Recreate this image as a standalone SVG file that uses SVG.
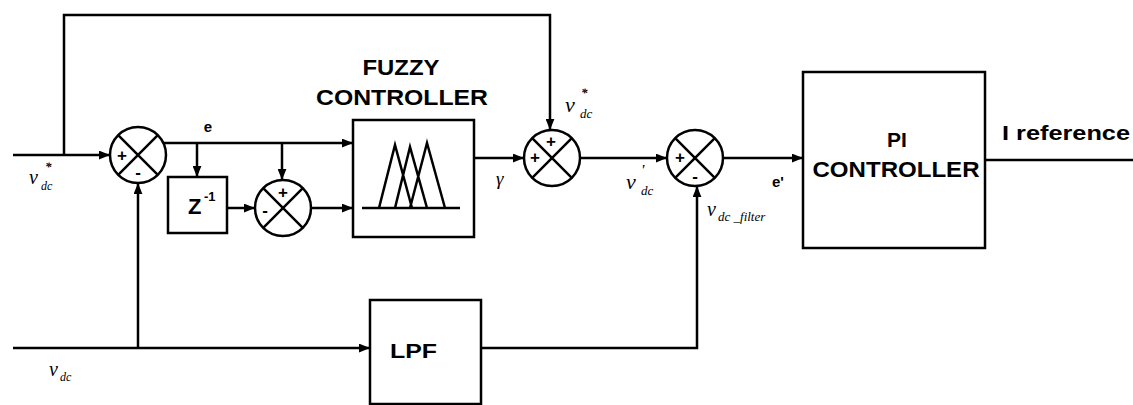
<svg xmlns="http://www.w3.org/2000/svg" width="1133" height="405" viewBox="0 0 1133 405">
<style>
.ln{stroke:#000;stroke-width:2.5;fill:none}
.box{stroke:#000;stroke-width:2.5;fill:#fff}
.lbl{font-family:"Liberation Sans",Arial,sans-serif;font-weight:bold;fill:#000}
.it{font-family:"Liberation Serif","Times New Roman",serif;font-style:italic;fill:#000}
.sg{font-family:"Liberation Sans",Arial,sans-serif;font-weight:bold;font-size:17px;text-anchor:middle;dominant-baseline:central;fill:#000}
</style>
<defs>
<marker id="ah" viewBox="0 0 10 8" refX="10" refY="4" markerWidth="11" markerHeight="9" markerUnits="userSpaceOnUse" orient="auto">
<path d="M0,0 L10,4 L0,8 z" fill="#000"/>
</marker>
</defs>

<g id="connectors" class="ln">
<path d="M13,155 L110,155" marker-end="url(#ah)"/>
<path d="M64,155 L64,15 L550,15 L550,130" marker-end="url(#ah)"/>
<path d="M163,143 L353,143" marker-end="url(#ah)"/>
<path d="M197,143 L197,177" marker-end="url(#ah)"/>
<path d="M282,143 L282,180" marker-end="url(#ah)"/>
<path d="M227,208 L255,208" marker-end="url(#ah)"/>
<path d="M311,208 L353,208" marker-end="url(#ah)"/>
<path d="M475,158 L524,158" marker-end="url(#ah)"/>
<path d="M580,158 L667,158" marker-end="url(#ah)"/>
<path d="M723,158 L803,158" marker-end="url(#ah)"/>
<path d="M985,160 L1133,160"/>
<path d="M13,348 L370,348" marker-end="url(#ah)"/>
<path d="M138,348 L138,183" marker-end="url(#ah)"/>
<path d="M481,348 L697,348 L697,186" marker-end="url(#ah)"/>
</g>

<g id="sum1">
<circle class="ln" cx="138" cy="155" r="28"/>
<path class="ln" d="M118.2,135.2 L157.8,174.8 M157.8,135.2 L118.2,174.8"/>
<text class="sg" x="122" y="155">+</text>
<text class="sg" x="138" y="172">-</text>
</g>

<g id="delay">
<rect class="box" x="168" y="177" width="59" height="56"/>
<text class="lbl" x="188" y="214" font-size="22">Z</text>
<text class="lbl" x="204" y="201" font-size="13">-1</text>
</g>

<g id="sum2">
<circle class="ln" cx="283" cy="208" r="28"/>
<path class="ln" d="M263.2,188.2 L302.8,227.8 M302.8,188.2 L263.2,227.8"/>
<text class="sg" x="283" y="192">+</text>
<text class="sg" x="265" y="210">-</text>
</g>

<g id="fuzzy">
<text class="lbl" x="401" y="75" font-size="22" text-anchor="middle" textLength="77" lengthAdjust="spacingAndGlyphs">FUZZY</text>
<text class="lbl" x="402" y="105" font-size="22" text-anchor="middle" textLength="172" lengthAdjust="spacingAndGlyphs">CONTROLLER</text>
<rect class="box" x="353" y="120" width="121" height="117"/>
<path class="ln" stroke-width="3" d="M362,208 L460,208 M379,208 L395,145 L412,208 M395,208 L410,147 L427,208 M410,208 L427,143 L445,208"/>
</g>

<g id="sum3">
<circle class="ln" cx="552" cy="158" r="28"/>
<path class="ln" d="M532.2,138.2 L571.8,177.8 M571.8,138.2 L532.2,177.8"/>
<text class="sg" x="551" y="141">+</text>
<text class="sg" x="535" y="157">+</text>
</g>

<g id="sum4">
<circle class="ln" cx="695" cy="158" r="28"/>
<path class="ln" d="M675.2,138.2 L714.8,177.8 M714.8,138.2 L675.2,177.8"/>
<text class="sg" x="680" y="157">+</text>
<text class="sg" x="695" y="176">-</text>
</g>

<g id="pi">
<rect class="box" x="803" y="72" width="182" height="176"/>
<text class="lbl" x="897" y="147" font-size="21" text-anchor="middle">PI</text>
<text class="lbl" x="896" y="177" font-size="22" text-anchor="middle" textLength="167" lengthAdjust="spacingAndGlyphs">CONTROLLER</text>
</g>

<g id="lpf">
<rect class="box" x="370" y="300" width="111" height="104"/>
<text class="lbl" x="390" y="358" font-size="21" textLength="47" lengthAdjust="spacingAndGlyphs">LPF</text>
</g>

<g id="labels">
<text class="lbl" x="1002" y="140" font-size="20" textLength="128" lengthAdjust="spacingAndGlyphs">I reference</text>
<text class="lbl" x="208" y="132" font-size="15" text-anchor="middle">e</text>
<text class="lbl" x="772" y="187" font-size="15">e'</text>
<text class="it" x="496" y="185" font-size="19">γ</text>
<text class="it" x="29" y="184" font-size="20">v</text>
<text class="it" x="45" y="171" font-size="13" font-weight="bold">*</text>
<text class="it" x="41" y="190" font-size="12">dc</text>
<text class="it" x="49" y="376" font-size="20">v</text>
<text class="it" x="60" y="381" font-size="12">dc</text>
<text class="it" x="565" y="112" font-size="22">v</text>
<text class="it" x="581" y="97" font-size="13" font-weight="bold">*</text>
<text class="it" x="580" y="118" font-size="13">dc</text>
<text class="it" x="626" y="189" font-size="22">v</text>
<text class="it" x="641" y="175" font-size="14" font-weight="bold">'</text>
<text class="it" x="641" y="195" font-size="13">dc</text>
<text class="it" x="707" y="216" font-size="20">v</text>
<text class="it" x="718" y="221" font-size="13">dc _filter</text>
</g>
</svg>
